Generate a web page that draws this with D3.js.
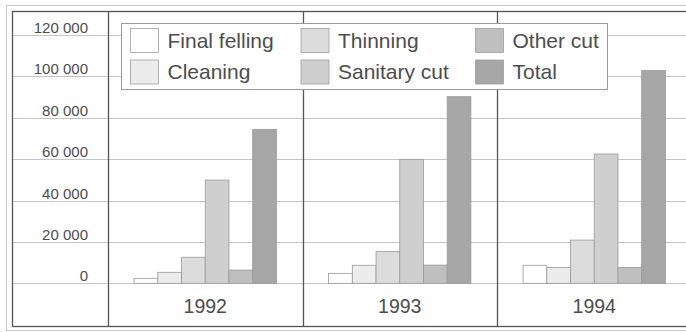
<!DOCTYPE html>
<html><head><meta charset="utf-8">
<script src="https://cdn.jsdelivr.net/npm/d3@7"></script>
<style>html,body{margin:0;padding:0;background:#fff;}svg{display:block;}</style>
</head><body>
<svg id="c" width="686" height="332"></svg>
<script>
const years = ["1992", "1993", "1994"];
const seriesNames = ["Final felling", "Cleaning", "Thinning", "Sanitary cut", "Other cut", "Total"];
const finalFelling = [2400, 4800, 8700];
const cleaning = [5300, 8700, 7700];
const thinning = [12600, 15300, 20900];
const sanitaryCut = [49900, 59900, 62500];
const otherCut = [6400, 8800, 7600];
const total = [74400, 90200, 102800];
const yTicks = [0, 20000, 40000, 60000, 80000, 100000, 120000];
const seriesColors = ["#ffffff", "#ececec", "#dcdcdc", "#cfcfcf", "#bfbfbf", "#a6a6a6"];

const values = [finalFelling, cleaning, thinning, sanitaryCut, otherCut, total];
const svg = d3.select("#c");
const textCol = "#4d4d4d";

const x = d3.scaleBand().domain(years).range([108, 691.5]).padding(0);
const xs = d3.scaleBand().domain(seriesNames).range([0, x.bandwidth()]).paddingInner(0).paddingOuter(1.1);
const y = d3.scaleLinear().domain([0, 120000]).range([283.3, 35]);
const fmt = v => d3.format(",")(v).replace(/,/g, " ");

// outer faint frame
svg.append("rect").attr("x", 6.5).attr("y", 5.5).attr("width", 700).attr("height", 325)
  .attr("fill", "none").attr("stroke", "#c8c8c8").attr("stroke-width", 1);

// gridlines
svg.append("g").selectAll("line").data(yTicks).join("line")
  .attr("x1", 13).attr("x2", 686)
  .attr("y1", d => Math.round(y(d)) + 0.5).attr("y2", d => Math.round(y(d)) + 0.5)
  .attr("stroke", "#c4c4c4").attr("stroke-width", 1);

// y axis labels
const yAxis = d3.axisLeft(y).tickValues(yTicks).tickFormat(fmt).tickSize(0).tickPadding(0);
const ya = svg.append("g").attr("transform", "translate(88,0)").call(yAxis);
ya.select(".domain").remove();
ya.selectAll("text").attr("dy", null).attr("y", -2.5)
  .attr("font-family", "Liberation Sans, Arial, sans-serif").attr("font-size", 15)
  .attr("fill", textCol);

// bars
const groups = svg.append("g").selectAll("g").data(years).join("g")
  .attr("transform", d => `translate(${x(d)},0)`);
groups.selectAll("rect").data((yr, i) => seriesNames.map((s, k) => ({s, k, v: values[k][i]})))
  .join("rect")
  .attr("x", d => xs(d.s)).attr("width", xs.bandwidth())
  .attr("y", d => y(d.v)).attr("height", d => y(0) - y(d.v))
  .attr("fill", d => seriesColors[d.k])
  .attr("stroke", "#9a9a9a").attr("stroke-width", 0.8);

// frame and dividers
svg.append("rect").attr("x", 12.5).attr("y", 11.5).attr("width", 690).attr("height", 315)
  .attr("fill", "none").attr("stroke", "#555").attr("stroke-width", 1.3);
svg.append("g").selectAll("line").data(years).join("line")
  .attr("x1", d => Math.round(x(d)) + 0.5).attr("x2", d => Math.round(x(d)) + 0.5)
  .attr("y1", 11.5).attr("y2", 326.5)
  .attr("stroke", "#555").attr("stroke-width", 1.3);

// x axis labels
const xAxis = d3.axisBottom(x).tickSize(0).tickPadding(0);
const xa = svg.append("g").attr("transform", "translate(0,313)").call(xAxis);
xa.select(".domain").remove();
xa.selectAll("text").attr("dy", null).attr("y", 0)
  .attr("font-family", "Liberation Sans, Arial, sans-serif").attr("font-size", 19.5)
  .attr("fill", textCol);

// legend
const lg = svg.append("g");
lg.append("rect").attr("x", 121.5).attr("y", 23.5).attr("width", 486).attr("height", 66)
  .attr("fill", "#fff").attr("stroke", "#9a9a9a").attr("stroke-width", 1);
const colX = [130, 300.5, 475];
const rowY = [28.5, 60];
const items = lg.selectAll("g.item").data(seriesNames).join("g").attr("class", "item")
  .attr("transform", (d, i) => `translate(${colX[Math.floor(i / 2)]},${rowY[i % 2]})`);
items.append("rect").attr("x", 0.5).attr("y", 0).attr("width", 28).attr("height", 24)
  .attr("fill", (d, i) => seriesColors[i]).attr("stroke", "#a0a0a0").attr("stroke-width", 0.8);
items.append("text").attr("x", 37.5).attr("y", 19)
  .attr("font-family", "Liberation Sans, Arial, sans-serif").attr("font-size", 21)
  .attr("fill", textCol).text(d => d);
</script>
</body></html>
